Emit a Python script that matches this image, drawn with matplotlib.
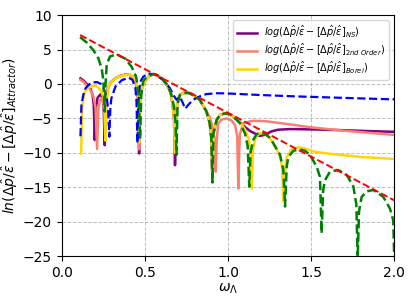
import matplotlib.pyplot as plt

# values (omega_Lambda, log of deviation)
x_ns = [0.112, 0.13, 0.15, 0.172, 0.185, 0.192, 0.198, 0.205, 0.215, 0.232, 0.245, 0.252, 0.258,
        0.265, 0.275, 0.29, 0.32, 0.36, 0.40, 0.43, 0.45, 0.458, 0.465,
        0.47, 0.48, 0.49, 0.51, 0.53, 0.55, 0.58, 0.61, 0.64, 0.655, 0.667, 0.675, 0.681,
        0.688, 0.695, 0.71, 0.73, 0.76, 0.79, 0.83, 0.87, 0.89, 0.90, 0.906,
        0.912, 0.932, 0.952, 0.982, 1.01, 1.032, 1.072, 1.10, 1.13, 1.162, 1.19, 1.22, 1.26,
        1.30, 1.373, 1.5, 1.673, 1.85, 2.0]
y_ns = [0.81, 0.5, 0.0, -0.64, -1.6, -3.1, -8.15, -3.5, -2.0, -1.52, -2.0, -3.5, -8.9,
        -2.5, -0.8, 0.1, 0.8, 1.25, 1.4, 1.0, -0.2, -2.0, -10.1,
        -2.5, -0.8, -0.1, 0.7, 1.25, 1.4, 1.2, 0.6, -0.5, -1.3, -3.0, -5.0, -11.8,
        -5.0, -2.5, -1.6, -1.3, -1.25, -1.6, -2.3, -4.0, -5.7, -8.0, -14.3,
        -7.2, -5.2, -4.5, -4.27, -4.4, -4.76, -5.6, -6.2, -6.8, -7.2, -7.55, -7.4, -6.9,
        -6.65, -6.55, -6.6, -6.7, -6.85, -6.95]

x_2nd = [0.112, 0.13, 0.15, 0.17, 0.19, 0.203, 0.212, 0.22, 0.23, 0.238, 0.248, 0.256, 0.262,
         0.268, 0.275, 0.29, 0.32, 0.36, 0.40, 0.43, 0.45, 0.458, 0.465,
         0.47, 0.48, 0.49, 0.51, 0.53, 0.55, 0.58, 0.61, 0.64, 0.655, 0.667, 0.675, 0.682,
         0.688, 0.695, 0.71, 0.73, 0.76, 0.79, 0.83, 0.87, 0.89, 0.91, 0.92, 0.926,
         0.932, 0.942, 0.96, 0.992, 1.02, 1.042, 1.055, 1.062, 1.068, 1.072, 1.092, 1.10,
         1.15, 1.22, 1.35, 1.5, 1.7, 1.85, 2.0]
y_2nd = [0.6, 0.3, -0.2, -0.8, -1.8, -3.5, -9.45, -3.5, -2.3, -2.1, -2.6, -4.0, -8.2,
         -2.5, -0.8, 0.1, 0.8, 1.25, 1.4, 1.0, -0.2, -2.0, -9.5,
         -2.5, -0.8, -0.1, 0.7, 1.25, 1.4, 1.2, 0.6, -0.5, -1.3, -3.0, -5.0, -10.0,
         -5.0, -2.5, -1.6, -1.3, -1.25, -1.6, -2.3, -4.0, -4.8, -6.5, -8.5, -12.75,
         -8.0, -5.7, -5.2, -5.0, -5.3, -5.97, -7.5, -15.2, -9.0, -7.2, -5.7, -5.6,
         -5.35, -5.4, -5.8, -6.3, -6.8, -7.1, -7.4]

x_borel = [0.116, 0.122, 0.13, 0.142, 0.162, 0.182, 0.2, 0.22, 0.24, 0.252, 0.258, 0.262,
           0.27, 0.283, 0.30, 0.322, 0.35, 0.383, 0.413, 0.44, 0.453, 0.46, 0.465,
           0.47, 0.48, 0.49, 0.51, 0.53, 0.55, 0.58, 0.61, 0.64, 0.655, 0.667, 0.675, 0.681,
           0.688, 0.695, 0.71, 0.73, 0.76, 0.79, 0.83, 0.87, 0.89, 0.90, 0.906,
           0.912, 0.932, 0.952, 0.982, 1.01, 1.032, 1.072, 1.10, 1.125, 1.137, 1.143,
           1.15, 1.165, 1.19, 1.22, 1.25, 1.272, 1.31, 1.325, 1.333,
           1.345, 1.353, 1.383, 1.423, 1.47, 1.513, 1.6, 1.673, 1.8, 2.0]
y_borel = [-10.1, -3.55, -2.0, -1.03, -0.5, -0.3, -0.25, -0.5, -1.2, -2.1, -3.5, -8.2,
           -2.5, -0.2, 0.3, 0.8, 1.1, 1.3, 1.35, 0.8, -0.2, -2.0, -8.5,
           -2.5, -0.8, -0.1, 0.7, 1.25, 1.4, 1.2, 0.6, -0.5, -1.3, -3.0, -5.0, -10.0,
           -5.0, -2.5, -1.6, -1.3, -1.25, -1.6, -2.3, -4.0, -5.7, -8.0, -14.0,
           -7.2, -5.2, -4.5, -4.27, -4.4, -4.76, -5.6, -6.5, -8.0, -10.5, -15.2,
           -9.5, -7.8, -7.15, -7.2, -7.8, -8.6, -10.3, -12.0, -17.1,
           -12.0, -10.6, -9.5, -9.2, -9.4, -9.8, -10.1, -10.3, -10.6, -10.9]

x_blue = [0.112, 0.118, 0.13, 0.142, 0.162, 0.182, 0.212, 0.235, 0.252, 0.27, 0.278, 0.286,
          0.292, 0.298, 0.322, 0.362, 0.403, 0.425, 0.443, 0.449, 0.455, 0.461, 0.471,
          0.49, 0.52, 0.56, 0.61, 0.65, 0.671, 0.69, 0.71, 0.725, 0.742, 0.762, 0.79,
          0.83, 0.87, 0.93, 0.99, 1.1, 1.19, 1.4, 1.6, 1.8, 2.0]
y_blue = [-7.6, -3.0, -1.5, -0.64, -0.1, 0.22, 0.27, 0.0, -0.64, -2.0, -3.5, -7.66,
          -3.5, -2.1, -0.4, 0.57, 0.9, 0.6, -0.64, -2.5, -8.6, -2.5, 0.3,
          1.05, 1.5, 1.4, 0.57, -0.6, -1.6, -2.3, -1.86, -2.6, -3.6, -3.0, -2.3,
          -1.8, -1.47, -1.35, -1.37, -1.5, -1.6, -1.8, -1.95, -2.1, -2.24]

x_green = [0.11, 0.15, 0.19, 0.22, 0.24, 0.25, 0.258, 0.262, 0.27, 0.29, 0.33, 0.38, 0.42,
           0.447, 0.462, 0.471, 0.478, 0.49, 0.51, 0.55, 0.59, 0.63, 0.655, 0.672, 0.684,
           0.69, 0.696, 0.71, 0.73, 0.76, 0.79, 0.83, 0.87, 0.89, 0.90, 0.906,
           0.912, 0.932, 0.952, 0.982, 1.01, 1.032, 1.072, 1.102, 1.118, 1.128,
           1.135, 1.152, 1.172, 1.19, 1.22, 1.25, 1.272, 1.313, 1.333, 1.343,
           1.353, 1.363, 1.393, 1.433, 1.463, 1.493, 1.533, 1.553, 1.563,
           1.572, 1.583, 1.613, 1.663, 1.714, 1.754, 1.772, 1.78,
           1.788, 1.804, 1.834, 1.874, 1.934, 1.974, 1.994, 2.0]
y_green = [6.8, 6.0, 4.9, 3.7, 2.2, 0.5, -4.0, -0.5, 2.8, 4.0, 4.3, 3.7, 2.5,
           1.05, -1.5, -8.0, -1.5, 0.4, 1.0, 1.45, 1.2, 0.0, -1.2, -3.0, -5.5,
           -10.3, -3.0, -1.6, -1.35, -1.3, -1.6, -2.3, -4.0, -5.7, -8.0, -14.2,
           -7.2, -5.2, -4.5, -4.27, -4.4, -4.76, -5.7, -7.2, -9.0, -14.9,
           -10.0, -8.1, -7.3, -7.08, -7.2, -7.8, -8.6, -10.3, -12.5, -17.8,
           -12.0, -10.6, -9.7, -9.5, -9.7, -10.3, -12.0, -13.5, -21.7,
           -15.5, -14.0, -12.75, -12.5, -13.2, -14.9, -17.5, -25.5,
           -18.5, -16.4, -15.6, -15.4, -16.4, -18.1, -19.8, -25.5]

x_red = [0.11, 2.0]
y_red = [7.1, -16.9]

plt.figure(figsize=(4.15, 3.02), dpi=100)
plt.subplots_adjust(left=0.149, right=0.950, top=0.950, bottom=0.152)

plt.plot(x_ns, y_ns, color='purple', lw=1.8,
         label=r'$log(\Delta\hat{p}/\hat{\varepsilon} - [\Delta\hat{p}/\hat{\varepsilon}]_{NS})$')
plt.plot(x_2nd, y_2nd, color='salmon', lw=1.8,
         label=r'$log(\Delta\hat{p}/\hat{\varepsilon} - [\Delta\hat{p}/\hat{\varepsilon}]_{2nd\ Order})$')
plt.plot(x_borel, y_borel, color='gold', lw=1.8,
         label=r'$log(\Delta\hat{p}/\hat{\varepsilon} - [\Delta\hat{p}/\hat{\varepsilon}]_{Borel})$')
plt.plot(x_blue, y_blue, color='blue', lw=1.6, ls='--')
plt.plot(x_green, y_green, color='green', lw=1.8, ls='--')
plt.plot(x_red, y_red, color='red', lw=1.4, ls='--')

plt.xlim(0, 2.0)
plt.ylim(-25, 10)
plt.xticks([0.0, 0.5, 1.0, 1.5, 2.0])
plt.yticks([10, 5, 0, -5, -10, -15, -20, -25])
plt.grid(linestyle='--', color='gray', alpha=0.5, lw=0.7)
plt.xlabel(r'$\omega_\Lambda$', fontsize=10, labelpad=1)
plt.ylabel(r'$ln(\Delta\hat{p}/\hat{\varepsilon} - [\Delta\hat{p}/\hat{\varepsilon}]_{Attractor})$', fontsize=10, labelpad=2)
plt.legend(loc='upper right', fontsize=7, handlelength=2, labelspacing=0.2, borderpad=0.4)

plt.savefig('out.png', dpi=100)
